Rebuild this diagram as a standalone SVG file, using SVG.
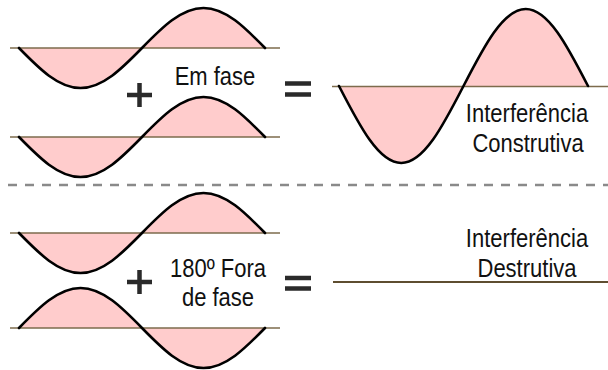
<svg xmlns="http://www.w3.org/2000/svg" xmlns:xlink="http://www.w3.org/1999/xlink" width="608" height="370" viewBox="0 0 608 370">
<style>
.fill{fill:#ffcccc;stroke:none}
.curve{fill:none;stroke:#000;stroke-width:2.6;stroke-linecap:round}
.axis{stroke:#7d6b4c;stroke-width:1.6;fill:none}
.sym{stroke:#2a2a2a;stroke-width:4.5;fill:none}
.lbl{font-family:"Liberation Sans",Arial,sans-serif;font-size:22px;fill:#111;text-anchor:middle}
</style>
<defs>
<path id="w" d="M0,0 C20.05,20.49 39.24,40 61.5,40 C83.76,40 102.95,20.49 123,0 C143.05,-20.49 162.24,-40 184.5,-40 C206.76,-40 225.95,-20.49 246,0"/>
<path id="wb" d="M0,0 C20.29,39.45 39.72,77 62.25,77 C84.78,77 104.21,39.45 124.5,0 C144.79,-39.45 164.22,-77 186.75,-77 C209.28,-77 228.71,-39.45 249,0"/>
</defs>
<rect width="608" height="370" fill="#fff"/>
<g id="wave1">
<use href="#w" class="fill" transform="translate(19,48)"/>
<line class="axis" x1="10" y1="48" x2="280" y2="48"/>
<use href="#w" class="curve" transform="translate(19,48)"/>
</g>
<g id="wave2">
<use href="#w" class="fill" transform="translate(19,137)"/>
<line class="axis" x1="10" y1="137" x2="280" y2="137"/>
<use href="#w" class="curve" transform="translate(19,137)"/>
</g>
<g id="wave3">
<use href="#w" class="fill" transform="translate(19,233)"/>
<line class="axis" x1="10" y1="233" x2="280" y2="233"/>
<use href="#w" class="curve" transform="translate(19,233)"/>
</g>
<g id="wave4">
<use href="#w" class="fill" transform="translate(19,328) scale(1,-1)"/>
<line class="axis" x1="10" y1="328" x2="280" y2="328"/>
<use href="#w" class="curve" transform="translate(19,328) scale(1,-1)"/>
</g>
<g id="waveResult">
<use href="#wb" class="fill" transform="translate(339,86)"/>
<line class="axis" x1="332" y1="86.5" x2="608" y2="86.5"/>
<use href="#wb" class="curve" transform="translate(339,86)"/>
</g>
<g id="flatResult">
<line x1="333" y1="282" x2="608" y2="282" stroke="#5e4d30" stroke-width="2.2"/>
</g>
<g id="divider">
<line x1="8" y1="185" x2="608" y2="185" stroke="#8a8a8a" stroke-width="2.5" stroke-dasharray="9 8"/>
</g>
<g id="plus1"><path class="sym" d="M127,95 H152 M139.5,83 V107"/></g>
<g id="equals1"><path class="sym" d="M285,83.5 H311 M285,94.5 H311"/></g>
<g id="plus2"><path class="sym" d="M127,282 H152 M139.5,270 V294"/></g>
<g id="equals2"><path class="sym" d="M285,278 H311 M285,288.5 H311"/></g>
<g id="labels">
<text class="lbl" transform="translate(215,85) scale(1,1.17)">Em fase</text>
<text class="lbl" transform="translate(527,122) scale(1,1.17)">Interferência</text>
<text class="lbl" transform="translate(528,152) scale(1,1.17)">Construtiva</text>
<text class="lbl" transform="translate(218,277) scale(1,1.17)">180º Fora</text>
<text class="lbl" transform="translate(218,306) scale(1,1.17)">de fase</text>
<text class="lbl" transform="translate(527,247) scale(1,1.17)">Interferência</text>
<text class="lbl" transform="translate(527,277) scale(1,1.17)">Destrutiva</text>
</g>
</svg>
